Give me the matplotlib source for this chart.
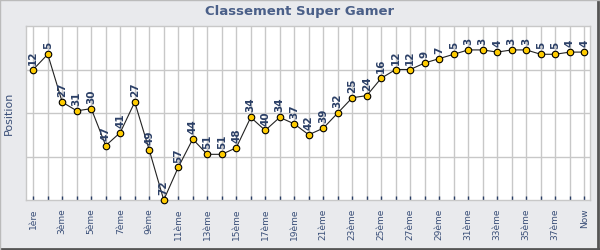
import matplotlib
matplotlib.use("Agg")
import matplotlib.pyplot as plt
from matplotlib.lines import Line2D

title = "Classement Super Gamer"
ylabel = "Position"
positions = [12, 5, 27, 31, 30, 47, 41, 27, 49, 72, 57, 44, 51, 51, 48, 34, 40, 34, 37, 42,
             39, 32, 25, 24, 16, 12, 12, 9, 7, 5, 3, 3, 4, 3, 3, 5, 5, 4, 4]
tick_labels = ["1ère", "3ème", "5ème", "7ème", "9ème", "11ème", "13ème", "15ème", "17ème",
               "19ème", "21ème", "23ème", "25ème", "27ème", "29ème", "31ème", "33ème",
               "35ème", "37ème", "Now"]
tick_idx = list(range(0, 37, 2)) + [38]

navy = "#2b3f66"
bg = "#e9eaed"

fig = plt.figure(figsize=(6, 2.5), dpi=100, facecolor=bg)
ax = fig.add_axes([26/600, 50/250, 564/600, 174/250])
ax.set_facecolor("white")

x = list(range(len(positions)))
ax.plot(x, positions, color="#222222", lw=0.8, zorder=3, clip_on=False)
ax.scatter(x, positions, s=22, c="#ffcc00", edgecolors="black", linewidths=0.8, zorder=4, clip_on=False)
for xi, v in zip(x, positions):
    ax.annotate(str(v), (xi, v), xytext=(0, 3.5), textcoords="offset points", rotation=90,
                ha="center", va="bottom", fontsize=7.5, fontweight="bold", color=navy, zorder=5,
                annotation_clip=False)

ax.set_xlim(-0.5, 38.4)
ax.set_ylim(72, -8)
ax.set_yticks([12, 32, 52])
ax.set_yticklabels([])
ax.tick_params(axis="y", length=0)
ax.set_xticks(x, minor=True)
ax.set_xticks(tick_idx)
ax.set_xticklabels(tick_labels, rotation=90, fontsize=6.5, color="#3a4f78")
ax.tick_params(axis="x", which="both", direction="in", length=3, width=1, color=navy, pad=6)
ax.grid(True, which="both", color="#c8c8c8", lw=1, zorder=0)
ax.grid(True, axis="y", which="major", color="#c8c8c8", lw=1)
ax.set_axisbelow(True)
for s in ax.spines.values():
    s.set_color("#c8c8c8")
    s.set_linewidth(1)

ax.set_ylabel(ylabel, fontsize=8, color="#3a4f78", labelpad=5)
fig.text(0.5, 1 - 12/250, title, ha="center", va="center", fontsize=9.5, fontweight="bold", color="#4a5f88")

# outer shadow border
fig.add_artist(Line2D([0, 1], [0.003, 0.003], transform=fig.transFigure, color="#555555", lw=2))
fig.add_artist(Line2D([0.997, 0.997], [0, 1], transform=fig.transFigure, color="#555555", lw=2))
fig.add_artist(Line2D([0, 0], [0, 1], transform=fig.transFigure, color="#bbbbbb", lw=1))
fig.add_artist(Line2D([0, 1], [1, 1], transform=fig.transFigure, color="#bbbbbb", lw=1))

fig.savefig("out.png", dpi=100, facecolor=bg)
